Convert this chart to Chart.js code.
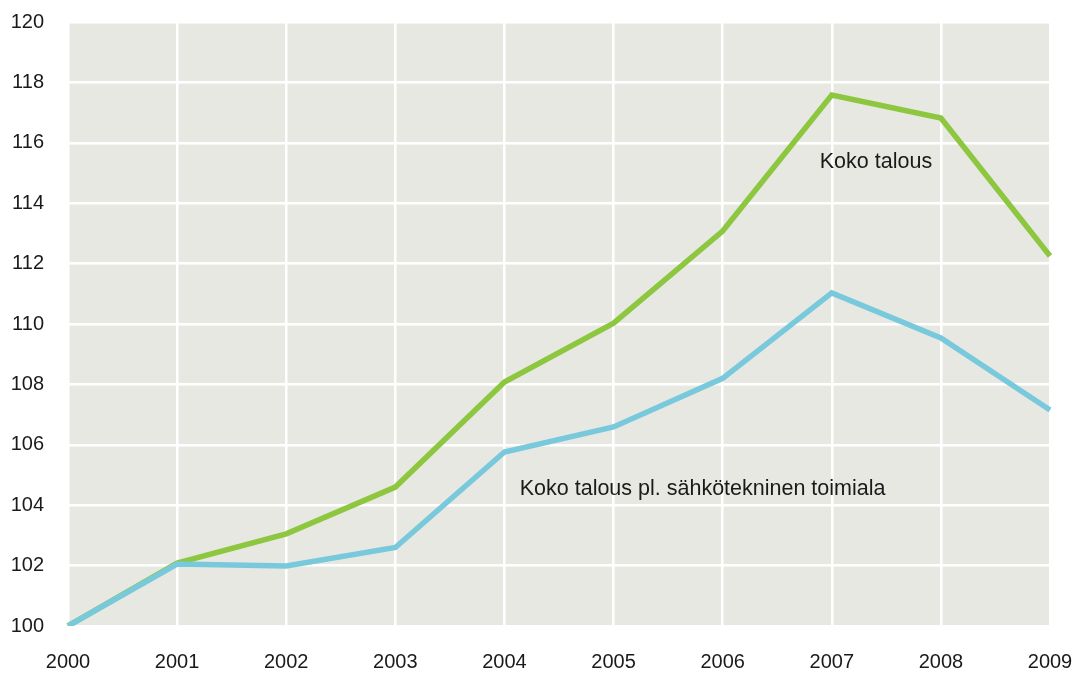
<!DOCTYPE html>
<html>
<head>
<meta charset="utf-8">
<script src="https://cdn.jsdelivr.net/npm/chart.js@4/dist/chart.umd.min.js"></script>
<style>
  html, body { margin: 0; padding: 0; background: #fff; }
  #wrap { width: 1079px; height: 675px; }
</style>
</head>
<body>
<div id="wrap"><canvas id="chart"></canvas></div>
<script>
const years = ["2000", "2001", "2002", "2003", "2004", "2005", "2006", "2007", "2008", "2009"];
const kokoTalous = [100, 102.08, 103.05, 104.6, 108.08, 110.03, 113.08, 117.58, 116.82, 112.25];
const ilmanSahko = [100, 102.05, 101.99, 102.6, 105.76, 106.59, 108.2, 111.03, 109.54, 107.15];
const yTicks = [100, 102, 104, 106, 108, 110, 112, 114, 116, 118, 120];

// tekstit kuvaajan sisällä (x = vuosi-indeksi, y = arvo)
const notes = [
  { text: "Koko talous", x: 6.89, y: 115.35 },
  { text: "Koko talous pl. sähkötekninen toimiala", x: 4.14, y: 104.55 }
];

const font = "'Liberation Sans', Arial, sans-serif";

const plotBg = {
  id: "plotBg",
  beforeDraw(chart) {
    const { ctx, chartArea: a } = chart;
    ctx.save();
    ctx.fillStyle = "#e8e8e3";
    ctx.fillRect(a.left, a.top, a.right - a.left, a.bottom - a.top);
    ctx.restore();
  },
  afterDatasetsDraw(chart) {
    const { ctx, scales } = chart;
    ctx.save();
    ctx.font = "21.5px " + font;
    ctx.fillStyle = "#1a1a1a";
    ctx.textBaseline = "middle";
    notes.forEach(n => {
      ctx.fillText(n.text, scales.x.getPixelForValue(n.x), scales.y.getPixelForValue(n.y));
    });
    ctx.restore();
  }
};

new Chart(document.getElementById("chart"), {
  type: "line",
  data: {
    labels: years,
    datasets: [
      { label: "Koko talous pl. sähkötekninen toimiala", data: ilmanSahko, borderColor: "#78c9db", borderWidth: 5.5 },
      { label: "Koko talous", data: kokoTalous, borderColor: "#8dc63f", borderWidth: 5.5 }
    ]
  },
  options: {
    responsive: true,
    maintainAspectRatio: false,
    animation: false,
    elements: { point: { radius: 0 }, line: { tension: 0, borderJoinStyle: "miter" } },
    layout: { padding: { top: 22, right: 29, left: 0, bottom: 0 } },
    plugins: { legend: { display: false }, tooltip: { enabled: false } },
    scales: {
      x: {
        offset: false,
        grid: { color: "#ffffff", lineWidth: 2.5, drawTicks: false },
        border: { display: false },
        ticks: { color: "#1a1a1a", font: { size: 20, family: font }, padding: 24, maxRotation: 0 },
        afterFit(s) { s.height = 49; s.paddingLeft = 0; s.paddingRight = 0; }
      },
      y: {
        min: 100,
        max: 120,
        afterBuildTicks(s) { s.ticks = yTicks.map(v => ({ value: v })); },
        grid: { color: "#ffffff", lineWidth: 2.5, drawTicks: false },
        border: { display: false },
        ticks: { color: "#1a1a1a", font: { size: 20, family: font }, padding: 24 },
        afterFit(s) { s.width = 68; s.paddingTop = 0; s.paddingBottom = 0; }
      }
    }
  },
  plugins: [plotBg]
});
</script>
</body>
</html>
